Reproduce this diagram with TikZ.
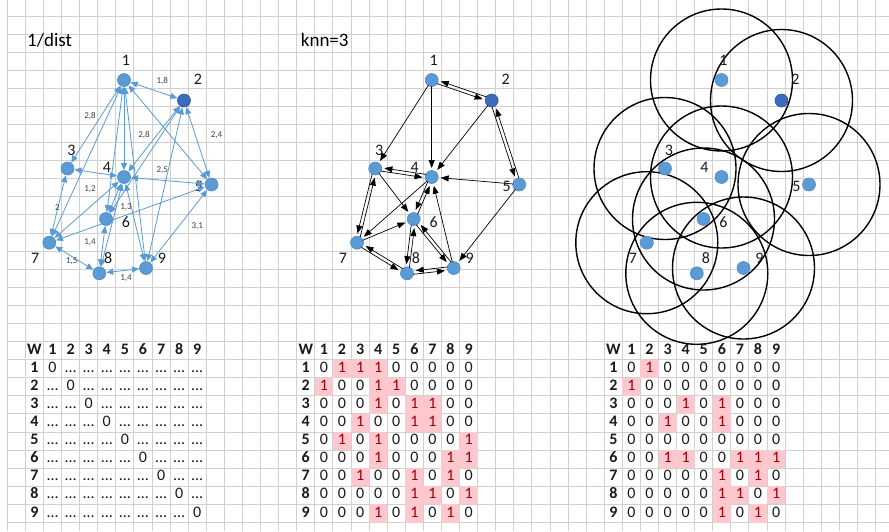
\documentclass[tikz,border=0pt]{standalone}
\usepackage{fontspec}
\setmainfont{Carlito}
\usetikzlibrary{arrows.meta,calc}
\definecolor{gridc}{HTML}{D0D0D0}
\definecolor{nodeblue}{HTML}{5B9BD5}
\definecolor{nodeline}{HTML}{4F8BC9}
\definecolor{darkblue}{HTML}{3E6BBF}
\definecolor{darkline}{HTML}{2F5597}
\definecolor{edgeblue}{HTML}{5B9BD5}
\definecolor{pinkfill}{HTML}{FFC7CE}
\definecolor{darkred}{HTML}{9C0006}
\definecolor{txt}{HTML}{1A1A1A}
\tikzset{
 gnode/.style={circle, fill=nodeblue, draw=nodeline, line width=0.6pt, minimum size=13pt, inner sep=0pt},
 gnodedark/.style={gnode, fill=darkblue, draw=darkline},
 nlabel/.style={font=\fontsize{16}{16}\selectfont, text=txt, inner sep=0pt},
 elabel/.style={font=\fontsize{9}{9}\selectfont, text=black!75, inner sep=0pt},
 barr/.style={draw=edgeblue, line width=0.8pt, <->, >={Triangle[length=7pt,width=6pt]}, shorten >=7pt, shorten <=7pt},
 karr/.style={draw=black, line width=0.7pt, ->, >={Triangle[length=8pt,width=6pt]}, shorten >=9pt, shorten <=6pt},
 ring/.style={draw=black, line width=1.4pt},
 titletext/.style={font=\fontsize{19}{19}\selectfont, anchor=base west, inner sep=0pt, text=black},
 hdr/.style={font=\fontsize{16}{16}\selectfont\bfseries, anchor=base, inner sep=0pt, text=txt},
 val/.style={font=\fontsize{16}{16}\selectfont, anchor=base, inner sep=0pt, text=txt},
 valone/.style={val, text=darkred},
}
\newcommand\placenodes[1]{%
  \foreach \i/\px/\py in {1/124/80,3/67.5/168.5,4/124/177,5/211.5/184.5,6/106/219,7/49.3/242.7,8/99.3/273.3,9/146/268}
    {\node[gnode] (#1\i) at (\px,\py) {};}
  \node[gnodedark] (#12) at (184,100.5) {};
  \foreach \i/\px/\py/\dx/\dy in {1/124/80/2/-19.5,2/184/100.5/14/-21.5,3/67.5/168.5/4/-18.5,4/124/177/-17/-10,5/211.5/184.5/-12.5/1.5,6/106/219/20/3,7/49.3/242.7/-14/15.6,8/99.3/273.3/9/-15.6,9/146/268/16/-10}
    {\node[nlabel] at ({\px+\dx},{\py+\dy}) {\i};}
}
\newcommand\tablehead[1]{%
  \node[hdr] at ({16.345+18.09*#1},354.2) {W};
  \foreach \j in {1,...,9} {
    \node[hdr] at ({16.345+18.09*(#1+\j)},354.2) {\j};
    \node[hdr] at ({16.345+18.09*#1},{354.2+18.09*\j}) {\j};
  }
}
\newcommand\tablevals[2]{%
  \foreach \row [count=\i] in {#2} {
    \foreach \v [count=\j] in \row {
      \ifnum\v=1
        \fill[pinkfill] ({7.3+18.09*(#1+\j)},{16+18.09*(18+\i)}) rectangle ({7.3+18.09*(#1+\j+1)},{16+18.09*(19+\i)});
        \node[valone] at ({16.345+18.09*(#1+\j)},{354.2+18.09*\i}) {1};
      \else
        \node[val] at ({16.345+18.09*(#1+\j)},{354.2+18.09*\i}) {0};
      \fi
    }
  }
}
\begin{document}
\begin{tikzpicture}[x=1pt,y=-1pt]
\useasboundingbox (0,0) rectangle (889,531);
\fill[white] (0,0) rectangle (889,531);
% spreadsheet grid
\foreach \n in {0,...,48} \draw[gridc, line width=1pt] ({7.3+18.09*\n},0) -- ({7.3+18.09*\n},531);
\foreach \m in {0,...,28} \draw[gridc, line width=1pt] (7.3,{16+18.09*\m}) -- (889,{16+18.09*\m});

% titles
\node[titletext] at (27,46.7) {1/dist};
\node[titletext] at (300.7,46.7) {knn=3};

% ---------- left graph ----------
\placenodes{l}
\foreach \a/\b in {1/2,1/3,1/4,1/5,1/6,1/7,1/9,2/4,2/5,2/6,2/9,3/4,3/7,4/5,4/6,4/7,4/8,4/9,5/7,5/9,6/8,7/8,8/9}
  \draw[barr] (l\a.center) -- (l\b.center);
\node[elabel] at (162.3,80.7) {1,8};
\node[elabel] at (90,116) {2,8};
\node[elabel] at (144,135) {2,8};
\node[elabel] at (216.5,135) {2,4};
\node[elabel] at (162.3,170.5) {2,5};
\node[elabel] at (90,189.3) {1,2};
\node[elabel] at (57.3,207.7) {2};
\node[elabel] at (126,206.7) {1,3};
\node[elabel] at (90,242.3) {1,4};
\node[elabel] at (197.3,226) {3,1};
\node[elabel] at (71.7,260.7) {1,5};
\node[elabel] at (126,278.3) {1,4};

% ---------- middle graph ----------
\begin{scope}[shift={(307.7,0)}]
\placenodes{m}
\end{scope}
\foreach \a/\b in {1/3,1/4,2/4,3/6,4/7,5/4,5/9,7/6,9/4}
  \draw[karr] (m\a.center) -- (m\b.center);
\foreach \a/\b in {1/2,2/5,3/4,3/7,4/6,6/8,6/9,7/8,8/9} {
  \draw[karr] ($(m\a)!1.7pt!-90:(m\b)$) -- ($(m\b)!1.7pt!90:(m\a)$);
  \draw[karr] ($(m\b)!1.7pt!-90:(m\a)$) -- ($(m\a)!1.7pt!90:(m\b)$);
}

% ---------- right graph ----------
\begin{scope}[shift={(597.5,0)}]
\foreach \px/\py in {124/80,184/100.5,67.5/168.5,124/177,211.5/184.5,106/219,49.3/242.7,99.3/273.3,146/268}
  \draw[ring] (\px,\py) circle[radius=71pt];
\placenodes{r}
\end{scope}

% ---------- tables ----------
\tablehead{1}
\foreach \i in {1,...,9} {
  \foreach \j in {1,...,9} {
    \ifnum\i=\j
      \node[val] at ({16.345+18.09*(1+\j)},{354.2+18.09*\i}) {0};
    \else
      \node[val] at ({16.345+18.09*(1+\j)},{354.2+18.09*\i}) {…};
    \fi
  }
}
\tablehead{16}
\tablevals{16}{{0,1,1,1,0,0,0,0,0},{1,0,0,1,1,0,0,0,0},{0,0,0,1,0,1,1,0,0},{0,0,1,0,0,1,1,0,0},{0,1,0,1,0,0,0,0,1},{0,0,0,1,0,0,0,1,1},{0,0,1,0,0,1,0,1,0},{0,0,0,0,0,1,1,0,1},{0,0,0,1,0,1,0,1,0}}
\tablehead{33}
\tablevals{33}{{0,1,0,0,0,0,0,0,0},{1,0,0,0,0,0,0,0,0},{0,0,0,1,0,1,0,0,0},{0,0,1,0,0,1,0,0,0},{0,0,0,0,0,0,0,0,0},{0,0,1,1,0,0,1,1,1},{0,0,0,0,0,1,0,1,0},{0,0,0,0,0,1,1,0,1},{0,0,0,0,0,1,0,1,0}}
\end{tikzpicture}
\end{document}
